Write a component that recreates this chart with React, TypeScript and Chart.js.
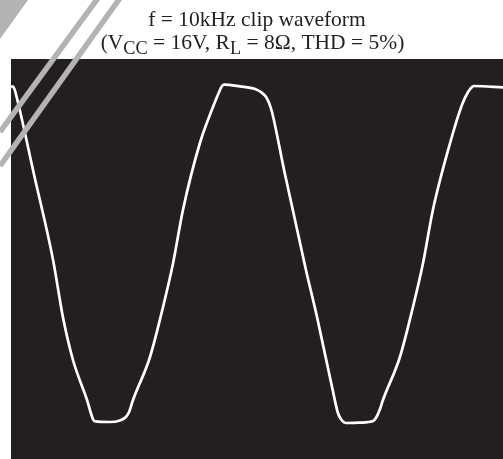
import React, { useEffect, useRef } from "react";
import { Chart, registerables } from "chart.js";

Chart.register(...registerables);

// time in microseconds, voltage in volts
const timeUs = [
  0, 0.6, 1.4, 2.0, 9.4, 17.1, 21.1, 25.2, 30.9, 33.3, 34.2, 40.2, 44.3, 46.7, 48.0,
  49.6, 56.5, 61.8, 65.9, 69.9, 76.8, 82.1, 84.6, 85.8, 86.6, 93.1, 99.2, 101.6, 103.7,
  104.9, 106.1, 111.0, 119.9, 124.4, 130.5, 132.9, 134.1, 136.2, 141.9, 147.2, 148.8,
  150.0, 151.2, 158.1, 163.4, 167.5, 171.5, 178.5, 183.3, 185.8, 187.4, 188.2, 200,
];
const voltsV = [
  8.6, 8.63, 8.5, 8.25, 4.2, -0.05, -2.9, -5.05, -7.05, -8.0, -8.12, -8.15, -8.07, -7.9, -7.65,
  -7.05, -4.9, -2.4, -0.2, 2.45, 5.8, 7.6, 8.35, 8.65, 8.72, 8.63, 8.5, 8.35, 8.1,
  7.8, 7.35, 4.45, -0.55, -2.9, -6.4, -7.7, -8.0, -8.2, -8.18, -8.1, -7.85,
  -7.5, -7.05, -4.9, -2.4, -0.2, 2.45, 5.8, 7.7, 8.35, 8.6, 8.65, 8.58,
];

const titleLine1 = "f = 10kHz clip waveform";

const screenBg = {
  id: "screenBg",
  beforeDraw(chart: any) {
    const { ctx, chartArea } = chart;
    ctx.save();
    ctx.fillStyle = "#231f20";
    ctx.fillRect(chartArea.left, chartArea.top, chartArea.right - chartArea.left, chartArea.bottom - chartArea.top);
    ctx.restore();
  },
};

const scanMarks = {
  id: "scanMarks",
  afterDraw(chart: any) {
    const { ctx } = chart;
    ctx.save();
    ctx.fillStyle = "#b3b3b3";
    ctx.beginPath();
    ctx.moveTo(0, 0);
    ctx.lineTo(28, 0);
    ctx.lineTo(0, 39);
    ctx.closePath();
    ctx.fill();
    ctx.strokeStyle = "#b3b3b3";
    ctx.lineWidth = 5.5;
    ctx.beginPath();
    ctx.moveTo(98, -2);
    ctx.lineTo(0, 132);
    ctx.stroke();
    ctx.beginPath();
    ctx.moveTo(120, -2);
    ctx.lineTo(0, 166);
    ctx.stroke();
    ctx.restore();
  },
};

export default function App() {
  const ref = useRef<HTMLCanvasElement | null>(null);

  useEffect(() => {
    if (!ref.current) return;
    const chart = new Chart(ref.current, {
      type: "line",
      data: {
        datasets: [
          {
            data: timeUs.map((t, i) => ({ x: t, y: voltsV[i] })),
            borderColor: "#ffffff",
            borderWidth: 2.7,
            pointRadius: 0,
            cubicInterpolationMode: "monotone",
            fill: false,
          },
        ],
      },
      options: {
        animation: false,
        responsive: false,
        maintainAspectRatio: false,
        layout: { padding: { left: 11, top: 59, right: 0, bottom: 0 } },
        plugins: { legend: { display: false }, tooltip: { enabled: false }, title: { display: false } },
        scales: {
          x: { type: "linear", min: 0, max: 200, display: false },
          y: { type: "linear", min: -10, max: 10, display: false },
        },
      },
      plugins: [screenBg, scanMarks],
    });
    return () => chart.destroy();
  }, []);

  const font = { fontFamily: '"Liberation Serif", "Times New Roman", serif', fontSize: 21.5, lineHeight: "23px", color: "#231f20" };
  const sub = { fontSize: "0.85em", position: "relative" as const, top: "0.3em" };

  return (
    <div style={{ position: "absolute", left: 0, top: 0, width: 503, height: 459, overflow: "hidden", background: "#fff" }}>
      <canvas ref={ref} width={503} height={459} style={{ position: "absolute", left: 0, top: 0, width: 503, height: 459 }} />
      <div style={{ ...font, position: "absolute", left: 0, top: 8, width: 514, textAlign: "center", whiteSpace: "nowrap" }}>
        {titleLine1}
      </div>
      <div style={{ ...font, position: "absolute", left: 0, top: 31, width: 505, textAlign: "center", whiteSpace: "nowrap" }}>
        (V<span style={sub}>CC</span> = 16V, R<span style={sub}>L</span> = 8Ω, THD = 5%)
      </div>
    </div>
  );
}
